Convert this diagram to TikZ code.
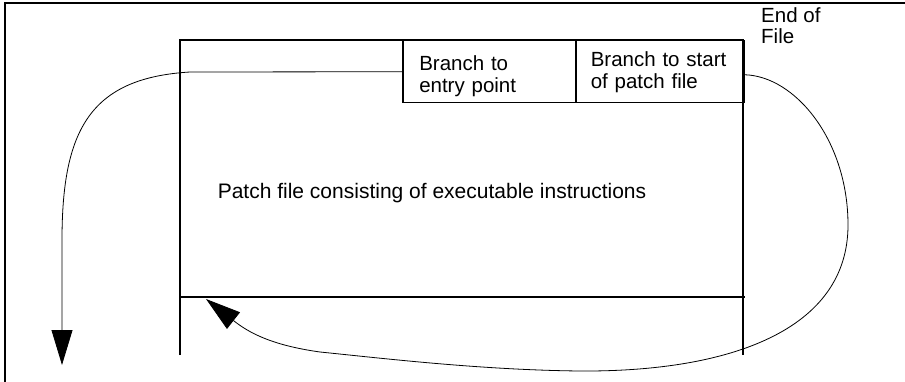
\documentclass[tikz,border=0pt]{standalone}
\usepackage{fontspec}
\setmainfont{Liberation Sans}
\usepackage{tikz}
\usetikzlibrary{arrows.meta, positioning}
\tikzset{
  boxline/.style={line width=1.5pt, color=black},
  cell/.style={rectangle, draw, line width=1.5pt, anchor=north west,
    minimum height=62pt, align=left, inner xsep=14pt,
    font=\fontsize{20.5}{22}\selectfont},
  label/.style={align=left, inner sep=0pt, font=\fontsize{20.5}{21}\selectfont},
  flow/.style={-{Triangle[length=35pt, width=21pt]}, line width=0.8pt}
}

\begin{document}
\begin{tikzpicture}[x=1pt, y=-1pt]
  \useasboundingbox (0,0) rectangle (905,382);
  % frame
  \draw[boxline] (905,3) -- (5,3) -- (5,382);
  % patch file
  \draw[boxline] (180,355) -- (180,40) -- (743,40) -- (743,355);
  \draw[boxline] (180,297) -- (745,297);
  \node[cell, minimum width=173pt, text width=140pt] (entry) at (402,40) {\rule{0pt}{23pt}Branch to\\entry point};
  \node[cell, minimum width=168pt, text width=138pt] (start) at (575,40) {Branch to start\\of patch file};
  \node[label, anchor=base, font=\fontsize{21}{24}\selectfont] (body) at (432,199) {Patch file consisting of executable instructions};
  \node[label, anchor=north west] (eof) at (761,7) {End of\\File};
  \coordinate (exitpt) at (62,365);
  \coordinate (patchend) at (206,299);
  \draw[flow] (entry.west) -- (190,72) .. controls (90,78) and (62,130) .. (62,240) -- (exitpt);
  \draw[flow] ([yshift=-3pt]start.east) .. controls (795,76) and (848,140) .. (848,225)
    .. controls (848,330) and (730,372) .. (580,371)
    .. controls (480,370) and (380,358) .. (320,352)
    .. controls (270,345) and (248,332) .. (patchend);
\end{tikzpicture}
\end{document}
